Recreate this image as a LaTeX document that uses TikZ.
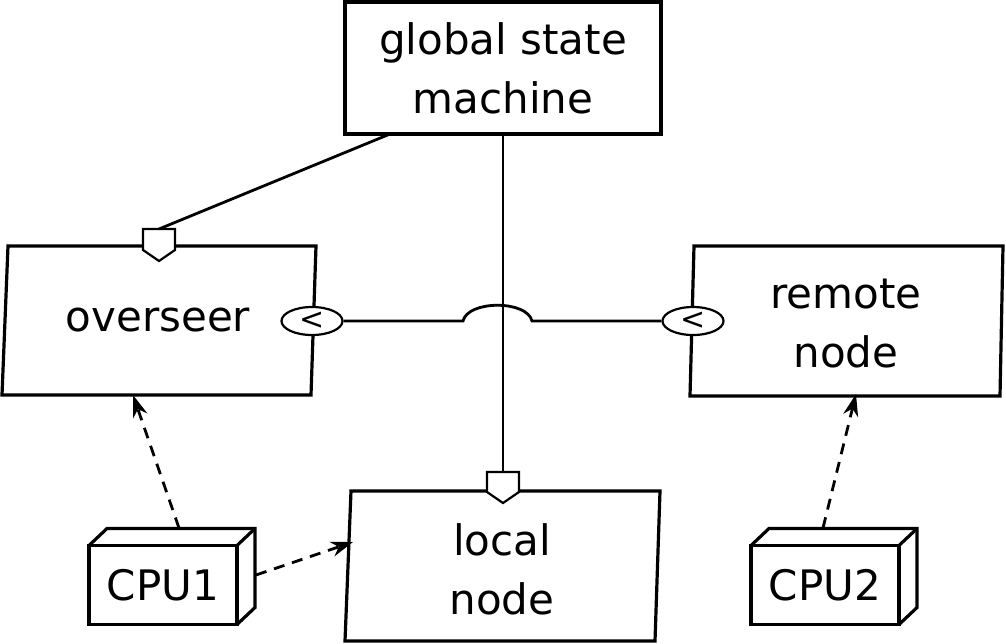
\documentclass[tikz,border=0pt]{standalone}
\usepackage{fontspec}
\setmainfont{DejaVu Sans}
\usetikzlibrary{arrows.meta,calc,shapes.geometric}
\begin{document}
\begin{tikzpicture}[x=1pt,y=-1pt,
  boxline/.style={line width=3.2pt,line join=miter},
  conn/.style={line width=2.8pt},
  dashconn/.style={line width=2.8pt,dash pattern=on 11pt off 8pt,-{Stealth[length=22pt,width=15pt,inset=7pt]}},
  lbl/.style={font=\fontsize{42}{59}\selectfont,align=center,inner sep=0pt},
  portshape/.style={line width=2.2pt,fill=white,line join=miter},
  lollipop/.style={ellipse,draw,line width=2.2pt,fill=white,minimum width=61pt,minimum height=28pt,inner sep=0pt,font=\fontsize{30}{30}\selectfont},
  cpubox/.style={draw,line width=3.2pt,outer sep=0pt,minimum width=148pt,minimum height=79pt,inner sep=0pt,font=\fontsize{42}{59}\selectfont}
]
\useasboundingbox (0,0) rectangle (1006,643);

% global state machine
\node[lbl,draw,line width=3.2pt,minimum width=316pt,minimum height=132pt] (gsm) at (503,68) {global state\\machine};

% skewed boxes
\draw[boxline] (8,246) -- (316,246) -- (311,395) -- (2,395) -- cycle;
\node[lbl] (ov) at (158,320) {overseer};
\draw[boxline] (694,246) -- (1003,246) -- (1000,396) -- (690,396) -- cycle;
\node[lbl] (rn) at (846,324) {remote\\node};
\draw[boxline] (351,491) -- (660,491) -- (655,641) -- (345,641) -- cycle;
\node[lbl] (ln) at (502,569) {local\\node};

% named coordinates
\coordinate (gA) at (390,134);
\coordinate (gB) at (503,134);
\coordinate (ovP) at (159,229);
\coordinate (lnP) at (503,472);
\coordinate (ovB) at (133,395);
\coordinate (rnB) at (856,394);
\coordinate (lnL) at (353,542);

% connectors
\draw[conn] (gA) -- (ovP);
\draw[conn] (gB) -- (lnP);

% lollipops
\node[lollipop] (e1) at (312,321) {<};
\node[lollipop] (e2) at (693,321) {<};
\coordinate (j1) at (463,321);
\coordinate (j2) at (532,321);
\draw[conn] (e1.east) -- (j1) .. controls (468,300) and (527,300) .. (j2) -- (e2.west);

% ports
\draw[portshape] (143,229) -- (175,229) -- (175,250) -- (159,261) -- (143,250) -- cycle;
\draw[portshape] (487,472) -- (519,472) -- (519,492) -- (503,503) -- (487,492) -- cycle;

% CPU boxes
\node[cpubox] (cpu1) at (163,585) {CPU1};
\draw[line width=3.2pt,line join=miter] (cpu1.north west) -- ++(18,-17) -- ++(148,0) -- ($(cpu1.south east)+(18,-17)$) -- (cpu1.south east);
\draw[line width=3.2pt] (cpu1.north east) -- ++(18,-17);
\node[cpubox] (cpu2) at (825,585) {CPU2};
\draw[line width=3.2pt,line join=miter] (cpu2.north west) -- ++(18,-17) -- ++(148,0) -- ($(cpu2.south east)+(18,-17)$) -- (cpu2.south east);
\draw[line width=3.2pt] (cpu2.north east) -- ++(18,-17);

\coordinate (c1T) at (179,528);
\coordinate (c1R) at (256,575);
\coordinate (c2T) at (823,528);

% dashed arrows
\draw[dashconn] (c1T) -- (ovB);
\draw[dashconn] (c1R) -- (lnL);
\draw[dashconn] (c2T) -- (rnB);
\end{tikzpicture}
\end{document}
